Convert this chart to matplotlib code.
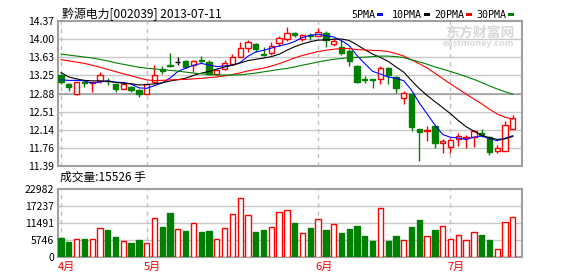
import numpy as np
import pandas as pd
import matplotlib
matplotlib.use('Agg')
import matplotlib.pyplot as plt
from matplotlib.patches import Rectangle
from matplotlib.transforms import blended_transform_factory

plt.rcParams['font.family'] = ['Noto Sans CJK SC', 'DejaVu Sans']

title = '黔源电力[002039] 2013-07-11'
vol_title = '成交量:15526 手'
ma_names = ['5PMA', '10PMA', '20PMA', '30PMA']
ma_colors = ['#0000ff', '#000000', '#ff0000', '#008000']

open_ = [13.26, 13.075, 12.88, 13.12, 13.10, 13.145, 13.14, 13.07, 12.98, 13.01,
         12.95, 12.88, 13.12, 13.38, 13.47, 13.53, 13.55, 13.47, 13.57, 13.53,
         13.28, 13.38, 13.49, 13.64, 13.81, 13.90, 13.70, 13.72, 13.91, 13.99,
         14.13, 14.00, 14.09, 14.07, 14.13, 13.90, 13.83, 13.76, 13.445, 13.18,
         13.17, 13.18, 13.40, 13.21, 12.79, 12.88, 12.15, 12.10, 12.21, 11.855,
         11.79, 11.94, 11.965, 11.99, 12.06, 11.98, 11.69, 11.70, 12.16]
high = [13.29, 13.10, 13.11, 13.145, 13.12, 13.33, 13.20, 13.09, 13.075, 13.035,
        12.98, 13.10, 13.47, 13.44, 13.72, 13.62, 13.57, 13.57, 13.66, 13.57,
        13.39, 13.57, 13.70, 13.94, 13.98, 13.925, 13.83, 13.94, 14.065, 14.25,
        14.145, 14.10, 14.12, 14.23, 14.165, 14.03, 13.97, 13.79, 13.47, 13.23,
        13.18, 13.445, 13.42, 13.24, 12.94, 12.885, 12.15, 12.21, 12.21, 11.95,
        11.96, 12.06, 12.03, 12.13, 12.16, 12.005, 11.815, 12.31, 12.445]
low = [13.07, 12.925, 12.855, 13.02, 12.92, 13.10, 13.055, 12.92, 12.965, 12.92,
       12.815, 12.88, 13.10, 13.28, 13.43, 13.47, 13.40, 13.33, 13.50, 13.27,
       13.25, 13.36, 13.47, 13.62, 13.74, 13.74, 13.65, 13.67, 13.86, 13.96,
       14.05, 13.965, 13.98, 14.06, 13.83, 13.86, 13.68, 13.445, 13.10, 13.09,
       12.99, 13.075, 13.075, 12.90, 12.66, 12.10, 11.50, 11.91, 11.77, 11.66,
       11.65, 11.80, 11.77, 11.79, 11.98, 11.61, 11.65, 11.69, 12.16]
close = [13.12, 13.01, 13.11, 13.10, 13.11, 13.25, 13.13, 12.97, 13.07, 12.95,
         12.86, 13.08, 13.25, 13.35, 13.45, 13.53, 13.42, 13.55, 13.54, 13.29,
         13.36, 13.50, 13.62, 13.81, 13.94, 13.80, 13.665, 13.85, 14.03, 14.12,
         14.08, 14.08, 14.07, 14.14, 13.97, 13.95, 13.705, 13.555, 13.115, 13.15,
         13.16, 13.41, 13.26, 12.99, 12.89, 12.20, 12.08, 12.14, 11.855, 11.91,
         11.92, 12.005, 11.98, 12.10, 12.02, 11.685, 11.76, 12.23, 12.37]
volume = [6340, 5208, 6000, 6113, 6000, 9736, 9170, 6906, 5434, 4868,
          5774, 4642, 13133, 10189, 14944, 9397, 8830, 11548, 8491, 8830,
          6000, 9736, 14604, 19925, 14151, 8491, 9170, 10076, 15170, 15850,
          11548, 8038, 9849, 12793, 9170, 11208, 8151, 9510, 10529, 7132,
          5547, 16529, 5547, 7132, 5774, 10189, 12566, 7132, 9170, 10415,
          6000, 7359, 5774, 8491, 7472, 5774, 2604, 11774, 13472]

# moving-average values before enough bars are on screen
ma5_head = [13.16, 13.15, 13.15, 13.14]
ma10_head = [13.31, 13.22, 13.18, 13.15, 13.14, 13.14, 13.13, 13.11, 13.09]
ma20_head = [13.575, 13.55, 13.525, 13.50, 13.46, 13.42, 13.375, 13.33, 13.285, 13.245,
             13.20, 13.16, 13.145, 13.15, 13.16, 13.165, 13.17, 13.18, 13.19]
ma30_head = [13.69, 13.67, 13.65, 13.63, 13.61, 13.58, 13.55, 13.51, 13.48, 13.45,
             13.42, 13.40, 13.385, 13.37, 13.355, 13.34, 13.32, 13.30, 13.285, 13.27,
             13.26, 13.26, 13.26, 13.265, 13.28, 13.30, 13.325, 13.35, 13.375]

month_labels = ['4月', '5月', '6月', '7月']
month_starts = [0, 11, 33, 50]
price_tick_labels = ['11.39', '11.76', '12.14', '12.51', '12.88', '13.25', '13.63', '14.00', '14.37']
vol_tick_labels = ['0', '5746', '11491', '17237', '22982']

o = np.array(open_); h = np.array(high); l = np.array(low); c = np.array(close)
v = np.array(volume)
n = len(c)
x = np.arange(n)

cs = pd.Series(c)
heads = [ma5_head, ma10_head, ma20_head, ma30_head]
mas = []
for w, head in zip([5, 10, 20, 30], heads):
    r = cs.rolling(w).mean().to_numpy()
    r[:len(head)] = head
    mas.append(r)

W, H = 578, 276
fig = plt.figure(figsize=(W / 100, H / 100), dpi=100)
fig.patch.set_facecolor('white')
L, R = 58, 522
ax = fig.add_axes([L / W, 1 - 166 / H, (R - L) / W, 145 / H])
axv = fig.add_axes([L / W, 1 - 257 / H, (R - L) / W, 68 / H])

RED = '#ff0000'; GREEN = '#008000'; GRID = '#c8c8c8'; FRAME = '#a0a0a0'
xlim = (-0.385, 59.18)
pmin, pmax = float(price_tick_labels[0]), float(price_tick_labels[-1])
pticks = np.linspace(pmin, pmax, len(price_tick_labels))
vmax = float(vol_tick_labels[-1])
vticks = np.linspace(0, vmax, len(vol_tick_labels))

up = c > o
dn = c < o
fl = c == o
wick_col = np.where(up, RED, np.where(dn, GREEN, 'black'))

# price panel
for t in pticks[1:-1]:
    ax.axhline(t, color=GRID, lw=1, zorder=0)
ax.axhline(pticks[4], color=FRAME, lw=1.2, zorder=0)
for m in month_starts:
    ax.axvline(m, color='#c0c0c0', lw=1, ls=(0, (3, 3)), zorder=0)
ax.vlines(x, l, h, colors=list(wick_col), lw=1, zorder=2)
bw = 0.68
ax.bar(x[up], (c - o)[up], bottom=o[up], width=bw, facecolor='white', edgecolor=RED, lw=1, zorder=3)
ax.bar(x[dn], (o - c)[dn], bottom=c[dn], width=bw, facecolor=GREEN, edgecolor=GREEN, lw=1, zorder=3)
ax.hlines(o[fl], x[fl] - bw / 2, x[fl] + bw / 2, colors='black', lw=1, zorder=3)
for ma, col in zip(mas, ma_colors):
    ax.plot(x, ma, color=col, lw=0.8, zorder=4)
ax.set_xlim(*xlim)
ax.set_ylim(pmin, pmax)
ax.set_yticks(pticks)
ax.set_yticklabels(price_tick_labels)
ax.set_xticks([])

# volume panel
for t in vticks[1:-1]:
    axv.axhline(t, color=GRID, lw=1, zorder=0)
for m in month_starts:
    axv.axvline(m, color='#c0c0c0', lw=1, ls=(0, (3, 3)), zorder=0)
vup = c >= o
axv.bar(x[vup], v[vup], width=bw, facecolor='white', edgecolor=RED, lw=1, zorder=3)
axv.bar(x[~vup], v[~vup], width=bw, facecolor=GREEN, edgecolor=GREEN, lw=1, zorder=3)
axv.set_xlim(*xlim)
axv.set_ylim(0, vmax)
axv.set_yticks(vticks)
axv.set_yticklabels(vol_tick_labels)
axv.set_xticks([])
tr = blended_transform_factory(axv.transData, axv.transAxes)
for m, lab in zip(month_starts, month_labels):
    axv.text(m - 0.4, -0.15, lab, transform=tr, ha='left', va='center',
             color=RED, fontsize=8)

for a in (ax, axv):
    for s in a.spines.values():
        s.set_color(FRAME)
        s.set_linewidth(1.5)
    a.tick_params(axis='y', length=0, pad=3, labelsize=7.5)
    a.set_facecolor('white')

# texts
fig.text(62 / W, 1 - 14 / H, title, ha='left', va='center', fontsize=8.6)

renderer = fig.canvas.get_renderer()
leg_x = [351, 392, 434, 476]
for name, col, tx in zip(ma_names, ma_colors, leg_x):
    t = fig.text(tx / W, 1 - 14.5 / H, name, ha='left', va='center', fontsize=7.2,
                 family='DejaVu Sans Mono')
    bb = t.get_window_extent(renderer)
    fig.patches.append(Rectangle(((bb.x1 + 2) / W, 1 - 16 / H), 6 / W, 3 / H,
                                 transform=fig.transFigure, facecolor=col, edgecolor='none'))
fig.text(60 / W, 1 - 177 / H, vol_title, ha='left', va='center', fontsize=8.5)
fig.text(480 / W, 1 - 33 / H, '东方财富网', ha='center', va='center', fontsize=10,
         color='#d8d8d8', fontweight='bold', zorder=0)
fig.text(478 / W, 1 - 44 / H, 'eastmoney.com', ha='center', va='center', fontsize=6.5,
         color='#d8d8d8', fontweight='bold', zorder=0)

fig.savefig('out.png', dpi=100, facecolor='white')
